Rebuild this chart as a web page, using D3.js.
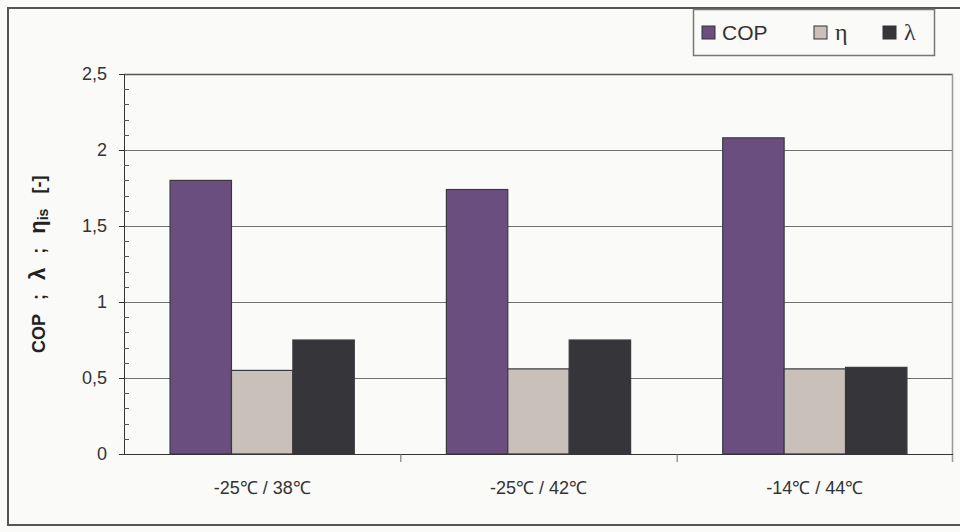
<!DOCTYPE html>
<html>
<head>
<meta charset="utf-8">
<script src="https://cdn.jsdelivr.net/npm/d3@7"></script>
<style>
  html, body { margin: 0; padding: 0; background: #fafaf8; }
  svg { display: block; }
</style>
</head>
<body>
<svg id="chart" width="960" height="532"></svg>
<script>
// Operating points (evaporation / condensation temperature)
const categories = ["-25\u2103 / 38\u2103", "-25\u2103 / 42\u2103", "-14\u2103 / 44\u2103"];
const seriesNames = ["COP", "\u03b7", "\u03bb"];
const copValues = [1.80, 1.74, 2.08];
const etaValues = [0.55, 0.56, 0.56];
const lambdaValues = [0.75, 0.75, 0.57];
const yTicks = [0, 0.5, 1, 1.5, 2, 2.5];
const yTickLabels = ["0", "0,5", "1", "1,5", "2", "2,5"];

const seriesValues = [copValues, etaValues, lambdaValues];
const colors = ["#6a4e80", "#c9c0b9", "#36353a"];

const FONT = "Liberation Sans, Arial, sans-serif";
const SERIF = "Liberation Serif, Times New Roman, serif";

const svg = d3.select("#chart");
const W = 960;
const plot = { left: 124, right: 953, top: 74, bottom: 454 };

// outer frame
svg.append("rect")
  .attr("x", 8).attr("y", 8)
  .attr("width", W).attr("height", 517)
  .attr("fill", "#fafaf8")
  .attr("stroke", "#555").attr("stroke-width", 2);

const y = d3.scaleLinear().domain([0, 2.5]).range([plot.bottom, plot.top]);
const x0 = d3.scaleBand().domain(categories).range([plot.left, plot.right]).padding(0);
const unit = x0.bandwidth() / 4.5; // 150% gap width
const x1 = d3.scaleBand().domain(seriesNames).range([0.75 * unit, 3.75 * unit]).padding(0);

// horizontal gridlines
svg.append("g")
  .selectAll("line")
  .data(yTicks.filter(d => d > 0))
  .join("line")
  .attr("x1", plot.left).attr("x2", plot.right)
  .attr("y1", d => y(d) + 0.5).attr("y2", d => y(d) + 0.5)
  .attr("stroke", d => d === 2.5 ? "#555" : "#707070")
  .attr("stroke-width", d => d === 2.5 ? 1.5 : 1);

// right border of plot area
svg.append("line")
  .attr("x1", plot.right - 0.5).attr("x2", plot.right - 0.5)
  .attr("y1", plot.top).attr("y2", plot.bottom + 8)
  .attr("stroke", "#999").attr("stroke-width", 1.5);

// bars
const rows = categories.map((c, i) => ({ cat: c, vals: seriesNames.map((s, j) => ({ s, j, v: seriesValues[j][i] })) }));
const groups = svg.append("g").selectAll("g")
  .data(rows).join("g")
  .attr("transform", d => `translate(${x0(d.cat)},0)`);
groups.selectAll("rect")
  .data(d => d.vals)
  .join("rect")
  .attr("x", d => x1(d.s))
  .attr("y", d => y(d.v))
  .attr("width", x1.bandwidth())
  .attr("height", d => y(0) - y(d.v))
  .attr("fill", d => colors[d.j])
  .attr("stroke", "#3a3a3e")
  .attr("stroke-width", 1.2);

// y axis
const yAxis = d3.axisLeft(y).tickValues(yTicks)
  .tickFormat((d, i) => yTickLabels[i]).tickSize(5).tickPadding(12);
const gy = svg.append("g").attr("transform", `translate(${plot.left},0)`).call(yAxis);
gy.select(".domain").attr("stroke", "#333").attr("d", `M0.5,${plot.top}V${plot.bottom}`);
gy.selectAll(".tick line").attr("stroke", "#333");
gy.selectAll("text").attr("font-family", FONT)
  .attr("font-size", 18).attr("fill", "#333");

// minor ticks on the inside of the y axis
svg.append("g").selectAll("line")
  .data(d3.range(1, 25).filter(i => i % 5 !== 0).map(i => i / 10))
  .join("line")
  .attr("x1", plot.left).attr("x2", plot.left + 5)
  .attr("y1", d => Math.round(y(d)) + 0.5).attr("y2", d => Math.round(y(d)) + 0.5)
  .attr("stroke", "#555");

// x axis
const xAxis = d3.axisBottom(x0).tickSize(0).tickPadding(27);
const gx = svg.append("g").attr("transform", `translate(0,${plot.bottom})`).call(xAxis);
gx.select(".domain").attr("stroke", "#333").attr("d", `M${plot.left},0.5H${plot.right}`);
gx.selectAll("text").attr("font-family", FONT)
  .attr("font-size", 18).attr("fill", "#333");

// category separators
svg.append("g").selectAll("line")
  .data(categories.slice(1))
  .join("line")
  .attr("x1", d => x0(d) + 0.5).attr("x2", d => x0(d) + 0.5)
  .attr("y1", plot.bottom).attr("y2", plot.bottom + 8)
  .attr("stroke", "#666");

// y axis title, read bottom to top
const yt = svg.append("text")
  .attr("transform", "translate(45,353) rotate(-90)")
  .attr("text-anchor", "start")
  .attr("font-family", FONT)
  .attr("font-weight", "bold").attr("font-size", 18).attr("fill", "#222");
yt.append("tspan").text("COP");
yt.append("tspan").attr("dx", 14).text(";");
yt.append("tspan").attr("dx", 14).attr("font-size", 22).text("\u03bb");
yt.append("tspan").attr("dx", 14).text(";");
yt.append("tspan").attr("dx", 14).attr("font-size", 22).text("\u03b7");
yt.append("tspan").attr("font-size", 14).attr("dy", 3).text("is");
yt.append("tspan").attr("dx", 15).attr("dy", -3).text("[-]");

// legend
const lg = svg.append("g");
lg.append("rect")
  .attr("x", 693.5).attr("y", 9.5).attr("width", 241).attr("height", 46)
  .attr("fill", "#fafaf8").attr("stroke", "#777").attr("stroke-width", 1.5);
const legendX = [702, 814, 883];
const items = lg.selectAll("g.item").data(seriesNames).join("g")
  .attr("class", "item")
  .attr("transform", (d, i) => `translate(${legendX[i]},26)`);
items.append("rect")
  .attr("width", 13).attr("height", 13)
  .attr("fill", (d, i) => colors[i]).attr("stroke", "#333").attr("stroke-width", 1);
items.append("text")
  .attr("x", (d, i) => i === 0 ? 20 : 21).attr("y", 14)
  .attr("font-family", (d, i) => i === 0 ? FONT : SERIF)
  .attr("font-size", (d, i) => i === 0 ? 21 : 24)
  .attr("fill", "#333")
  .text(d => d);
</script>
</body>
</html>
